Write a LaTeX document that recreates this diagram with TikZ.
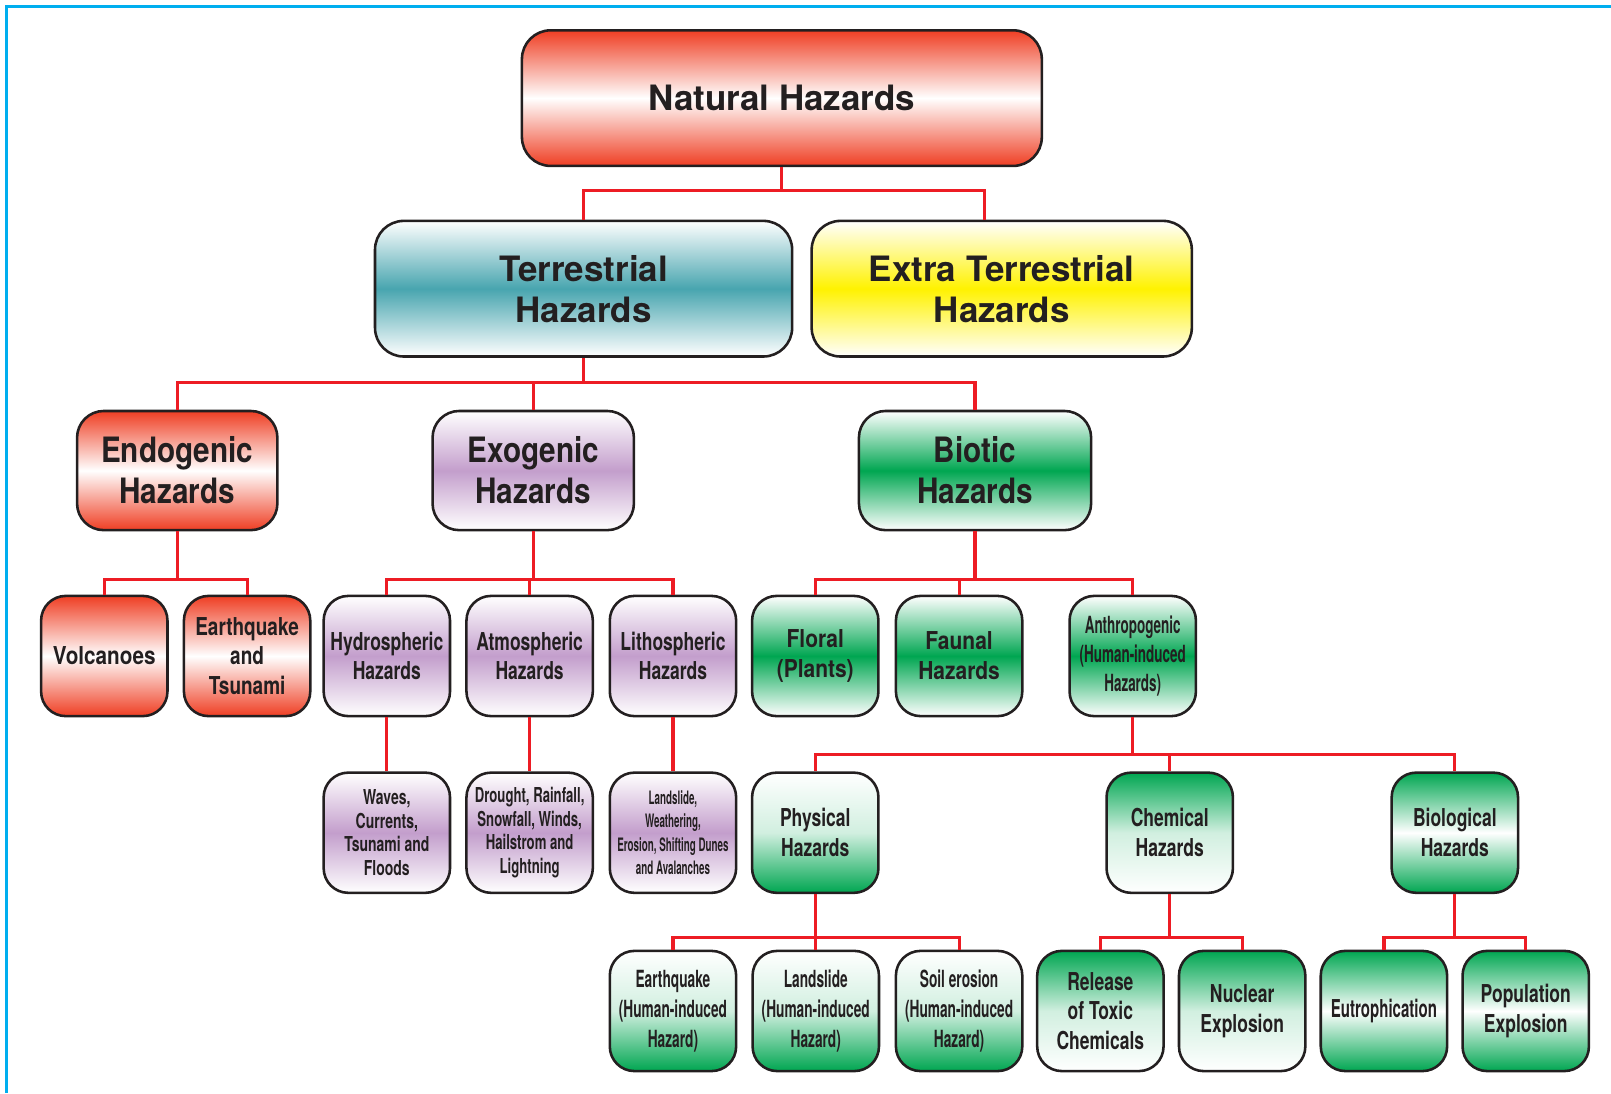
\documentclass[tikz,border=0pt]{standalone}
\usepackage{fontspec}
\setmainfont{TeX Gyre Heros}
\usetikzlibrary{positioning}

\definecolor{hzink}{RGB}{35,31,32}
\definecolor{hzred}{RGB}{239,62,35}
\definecolor{hzline}{RGB}{237,28,36}
\definecolor{hzteal}{RGB}{72,165,175}
\definecolor{hzyellow}{RGB}{255,242,0}
\definecolor{hzlilac}{RGB}{195,158,204}
\definecolor{hzgreen}{RGB}{0,166,81}
\definecolor{hzblue}{RGB}{0,174,239}

% condensed bold Helvetica-like face: stretch, size, skip
\newcommand\hzf[3]{\fontspec{TeX Gyre Heros}[FakeStretch=#1]\bfseries\fontsize{#2}{#3}\selectfont}

\begin{document}
\begin{tikzpicture}[x=0.5pt,y=-0.5pt,
  hz/.style={rectangle,rounded corners=12pt,draw=hzink,line width=1.25pt,
    minimum width=61.5pt,minimum height=58.5pt,inner sep=1pt,align=center,
    text=hzink,font=\hzf{0.71}{12}{14.5}},
  big/.style={hz,rounded corners=14pt,minimum height=66pt,font=\hzf{1}{17}{20}},
  mid/.style={hz,rounded corners=13pt,minimum height=58pt,font=\hzf{0.85}{17}{20}},
  redband/.style={top color=hzred,bottom color=hzred,middle color=white},
  band/.style={top color=white,bottom color=white,middle color=#1},
  gup/.style={top color=white,bottom color=hzgreen,middle color=hzgreen!18},
  gdown/.style={top color=hzgreen,bottom color=white,middle color=hzgreen!18},
  gends/.style={top color=hzgreen,bottom color=hzgreen,middle color=white},
  link/.style={draw=hzline,line width=1.5pt}]
  \useasboundingbox (0,0) rectangle (1568,1064);
  \draw[hzblue,line width=1.5pt] (6,1064) -- (6,6) -- (1568,6);

  % top levels
  \node[big,redband,minimum width=253pt] (nat) at (761,95.5) {Natural Hazards};
  \node[big,band=hzteal,minimum width=203pt] (terr) at (568,281) {Terrestrial\\Hazards};
  \node[big,band=hzyellow,minimum width=185pt] (extra) at (975,281) {Extra Terrestrial\\Hazards};
  \node[mid,redband,minimum width=97.5pt] (endo) at (172.5,458) {Endogenic\\Hazards};
  \node[mid,band=hzlilac,minimum width=98pt] (exo) at (519,458) {Exogenic\\Hazards};
  \node[mid,band=hzgreen,minimum width=113pt] (bio) at (949,458) {Biotic\\Hazards};

  % third row
  \node[hz,redband,font=\hzf{0.84}{12}{14.5}] (volc) at (101.5,638.5) {Volcanoes};
  \node[hz,redband,font=\hzf{0.77}{12}{14.2}] (quake) at (240.5,638.5) {Earthquake\\and\\Tsunami};
  \node[hz,band=hzlilac] (hydro) at (376.5,638.5) {Hydrospheric\\Hazards};
  \node[hz,band=hzlilac] (atmo) at (515.5,638.5) {Atmospheric\\Hazards};
  \node[hz,band=hzlilac] (litho) at (655,638.5) {Lithospheric\\Hazards};
  \node[hz,band=hzgreen,font=\hzf{0.85}{12}{14.5}] (flora) at (793.5,638.5) {Floral\\(Plants)};
  \node[hz,band=hzgreen,font=\hzf{0.85}{12}{14.5}] (fauna) at (933.5,638.5) {Faunal\\Hazards};
  \node[hz,band=hzgreen,font=\hzf{0.57}{11.5}{14.2}] (anthro) at (1102.5,638.5) {Anthropogenic\\(Human-induced\\Hazards)};

  % fourth row
  \node[hz,band=hzlilac,font=\hzf{0.68}{10}{11.5}] (waves) at (376.5,810.5) {Waves,\\Currents,\\Tsunami and\\Floods};
  \node[hz,band=hzlilac,font=\hzf{0.64}{10}{11.5}] (drought) at (515.5,810.5) {Drought, Rainfall,\\Snowfall, Winds,\\Hailstrom and\\Lightning};
  \node[hz,band=hzlilac,font=\hzf{0.53}{9}{11.5}] (slide) at (655,810.5) {Landslide,\\Weathering,\\Erosion, Shifting Dunes\\and Avalanches};
  \node[hz,gup] (phys) at (793.5,810.5) {Physical\\Hazards};
  \node[hz,gdown] (chem) at (1138.5,810.5) {Chemical\\Hazards};
  \node[hz,gends] (biol) at (1416,810.5) {Biological\\Hazards};

  % bottom row
  \node[hz,gup,font=\hzf{0.58}{11.5}{14.5}] (hquake) at (655,984) {Earthquake\\(Human-induced\\Hazard)};
  \node[hz,gup,font=\hzf{0.58}{11.5}{14.5}] (hslide) at (794,984) {Landslide\\(Human-induced\\Hazard)};
  \node[hz,gup,font=\hzf{0.58}{11.5}{14.5}] (hsoil) at (933.5,984) {Soil erosion\\(Human-induced\\Hazard)};
  \node[hz,gdown] (toxic) at (1071,984) {Release\\of Toxic\\Chemicals};
  \node[hz,gdown] (nuke) at (1209,984) {Nuclear\\Explosion};
  \node[hz,gends,font=\hzf{0.61}{12}{14.5}] (eutro) at (1347,984) {Eutrophication};
  \node[hz,gends] (popn) at (1485,984) {Population\\Explosion};

  % connectors
  \draw[link] (nat.south) -- ++(0,23) coordinate (j0) -| (terr.north);
  \draw[link] (j0) -| ([xshift=-8.5pt]extra.north);
  \draw[link] (terr.south) -- ++(0,24) coordinate (j1);
  \foreach \c in {endo,exo,bio} \draw[link] (j1) -| (\c.north);
  \draw[link] (endo.south) -- ++(0,47) coordinate (j2);
  \foreach \c in {volc,quake} \draw[link] (j2) -| (\c.north);
  \draw[link] (exo.south) -- ++(0,47) coordinate (j3);
  \foreach \c in {hydro,atmo,litho} \draw[link] (j3) -| (\c.north);
  \draw[link] (bio.south) -- ++(0,47) coordinate (j4);
  \foreach \c in {flora,fauna,anthro} \draw[link] (j4) -| (\c.north);
  \draw[link] (hydro) -- (waves);
  \draw[link] (atmo) -- (drought);
  \draw[link] (litho) -- (slide);
  \draw[link] (anthro.south) -- ++(0,36) coordinate (j5);
  \foreach \c in {phys,chem,biol} \draw[link] (j5) -| (\c.north);
  \draw[link] (phys.south) -- ++(0,42) coordinate (j6);
  \foreach \c in {hquake,hslide,hsoil} \draw[link] (j6) -| (\c.north);
  \draw[link] (chem.south) -- ++(0,42) coordinate (j7);
  \foreach \c in {toxic,nuke} \draw[link] (j7) -| (\c.north);
  \draw[link] (biol.south) -- ++(0,42) coordinate (j8);
  \foreach \c in {eutro,popn} \draw[link] (j8) -| (\c.north);
\end{tikzpicture}
\end{document}
